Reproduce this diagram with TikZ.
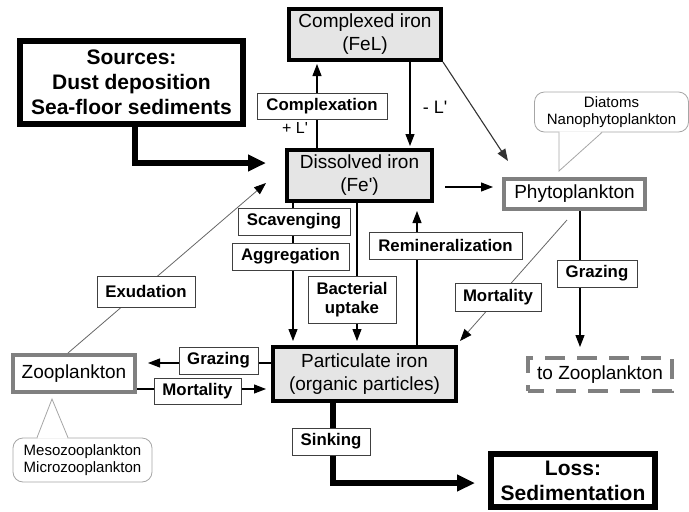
\documentclass[tikz,border=0pt]{standalone}
\usepackage{fontspec}
\setmainfont{Liberation Sans}
\usetikzlibrary{arrows.meta}

\begin{document}
\begin{tikzpicture}[x=1pt,y=-1pt,
        pool/.style={draw, line width=4pt, fill=black!10, inner sep=0pt, align=center, font=\fontsize{19}{23}\selectfont},
        ext/.style={draw, line width=6pt, fill=white, inner sep=0pt, align=center, font=\fontsize{21}{25}\selectfont\bfseries},
        plank/.style={draw=black!50, line width=4pt, fill=white, inner sep=0pt, align=center, font=\fontsize{19}{23}\selectfont},
        proc/.style={draw=black!75, line width=0.8pt, fill=white, inner sep=0pt, minimum height=27pt, align=center, font=\fontsize{16.8}{19}\selectfont\bfseries},
        note/.style={draw=black!35, line width=0.8pt, fill=white, rounded corners=10pt, inner sep=0pt, align=center, font=\fontsize{15}{17}\selectfont},
        flux/.style={line width=1.1pt, -{Triangle[length=12pt,width=9pt]}},
        weak/.style={draw=black!60, line width=0.8pt, -{Triangle[length=12pt,width=9pt,color=black]}},
        bigflux/.style={line width=6pt, -{Triangle[length=18pt,width=16pt]}}]

            \useasboundingbox (0,0) rectangle (689,512);

            % iron pools
            \node[pool, minimum width=152pt, minimum height=51pt] (cplx) at (365,34.5) {Complexed iron\\(FeL)};
            \node[pool, minimum width=145pt, minimum height=51pt] (diss) at (359.5,175.5) {Dissolved iron\\(Fe\textquotesingle)};
            \node[pool, minimum width=183pt, minimum height=54pt] (part) at (364.5,374) {Particulate iron\\(organic particles)};

            \node[ext, minimum width=223pt, minimum height=83pt] (src) at (131.5,82.5) {Sources:\\Dust deposition\\Sea-floor sediments};
            \node[ext, minimum width=164pt, minimum height=53pt] (loss) at (573,480.5) {Loss:\\Sedimentation};

            % plankton
            \node[plank, minimum width=141pt, minimum height=30pt] (phyto) at (574.5,194) {Phytoplankton};
            \node[plank, minimum width=122pt, minimum height=37pt] (zoo) at (74,373.5) {Zooplankton};
            \node[plank, dash pattern=on 20pt off 12pt, dash phase=4pt, minimum width=144pt, minimum height=33pt] (tozoo) at (600,374.5) {to Zooplankton};

            % group notes
            \node[note, minimum width=154pt, minimum height=40pt] (phytonote) at (611.5,112) {Diatoms\\Nanophytoplankton};
            \coordinate (phytotip) at (559,171);
            \fill[white] ([xshift=-52pt,yshift=1pt]phytonote.south) -- (phytotip) -- ([xshift=-10pt,yshift=1pt]phytonote.south) -- cycle;
            \draw[black!35, line width=0.8pt] ([xshift=-52.5pt]phytonote.south) -- (phytotip) -- ([xshift=-9.5pt]phytonote.south);

            \node[note, minimum width=139pt, minimum height=44pt] (zoonote) at (82.5,460) {Mesozooplankton\\Microzooplankton};
            \coordinate (zootip) at (52,399);
            \fill[white] ([xshift=-45pt,yshift=-1pt]zoonote.north) -- (zootip) -- ([xshift=-15pt,yshift=-1pt]zoonote.north) -- cycle;
            \draw[black!35, line width=0.8pt] ([xshift=-45.5pt]zoonote.north) -- (zootip) -- ([xshift=-14.5pt]zoonote.north);

            % fluxes
            \draw[bigflux, shorten >=19pt] ([xshift=3.5pt]src.south) |- ([yshift=12.5pt]diss.west);
            \draw[bigflux, shorten >=13pt] ([xshift=-31.5pt]part.south) |- ([yshift=-2.5pt]loss.west);

            \draw[flux, shorten >=2pt] ([xshift=-42.5pt]diss.north) -- ([xshift=-42.5pt]diss.north |- cplx.south);
            \draw[flux, shorten >=2pt] ([xshift=45pt]cplx.south) -- ([xshift=45pt]cplx.south |- diss.north);
            \draw[flux, black!80] (cplx.south east) -- ([xshift=6pt,yshift=16pt]phyto.north west);

            \coordinate (dfe) at ([yshift=-11.5pt]diss.east);
            \draw[flux, shorten <=11pt, shorten >=9pt] (dfe) -- (dfe -| phyto.west);

            \draw[flux, shorten >=4pt] ([xshift=-66.5pt]diss.south) -- ([xshift=-66.5pt]diss.south |- part.north);
            \draw[flux, shorten >=4pt] ([xshift=-2.5pt]diss.south) -- ([xshift=-2.5pt]diss.south |- part.north);
            \draw[flux, shorten >=8pt] ([xshift=52.5pt]part.north) -- ([xshift=52.5pt]part.north |- diss.south);

            \draw[flux, shorten >=11pt] ([yshift=11pt]part.west) -- ([yshift=11pt]part.west -| zoo.east);
            \draw[flux, shorten >=5pt] ([yshift=-15.5pt]zoo.east) -- ([yshift=-15.5pt]zoo.east -| part.west);

            \draw[weak] ([xshift=-6pt]zoo.north) -- ([xshift=-19pt,yshift=-7.5pt]diss.west);
            \draw[weak] ([xshift=-7.5pt,yshift=-9pt]phyto.south) -- ([xshift=2pt,yshift=4pt]part.north east);
            \draw[flux, shorten >=9pt] ([xshift=5.5pt]phyto.south) -- ([xshift=5.5pt]phyto.south |- tozoo.north);

            % process labels
            \node[proc, minimum width=130pt, minimum height=26pt] (complexation) at (322,106) {Complexation};
            \node[proc, minimum width=112pt] (scavenging) at (294,221.5) {Scavenging};
            \node[proc, minimum width=117pt] (aggregation) at (290.5,256.5) {Aggregation};
            \node[proc, minimum width=88pt, minimum height=47pt] (bacterial) at (352,299.5) {Bacterial\\uptake};
            \node[proc, minimum width=153pt] (remin) at (445.5,245.5) {Remineralization};
            \node[proc, minimum width=98pt, minimum height=31pt] (exudation) at (146,291.5) {Exudation};
            \node[proc, minimum width=79pt] (grazingz) at (218.5,360.5) {Grazing};
            \node[proc, minimum width=87pt, minimum height=26pt] (mortalityz) at (197.5,391) {Mortality};
            \node[proc, minimum width=78pt] (sinking) at (331,441.5) {Sinking};
            \node[proc, minimum width=86pt, minimum height=28pt] (mortalityp) at (498,297) {Mortality};
            \node[proc, minimum width=80pt] (grazingp) at (597,273.5) {Grazing};

            \node[font=\fontsize{16}{19}\selectfont] (plusl) at (295,128) {+ L\textquotesingle};
            \node[font=\fontsize{18}{21}\selectfont] (minusl) at (435,107) {- L\textquotesingle};

        \end{tikzpicture}
\end{document}
